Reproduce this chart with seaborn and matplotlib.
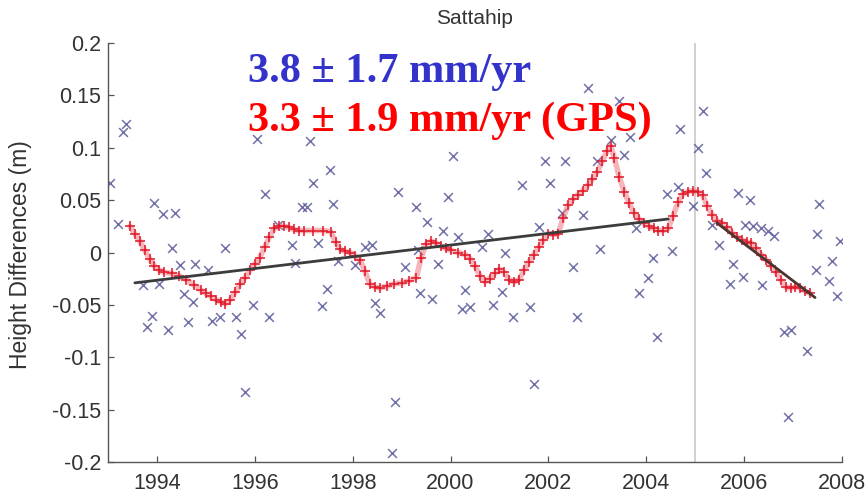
import numpy as np
import pandas as pd
import matplotlib
matplotlib.use('Agg')
import matplotlib.pyplot as plt
import seaborn as sns

# Tide gauge height differences (blue crosses)
tg_years = [1993.04, 1993.20, 1993.31, 1993.37, 1993.72, 1993.80, 1993.90, 1993.94,
            1994.04, 1994.12, 1994.23, 1994.31, 1994.37, 1994.47, 1994.55, 1994.64,
            1994.74, 1994.78, 1995.05, 1995.13, 1995.29, 1995.39, 1995.62, 1995.72,
            1995.80, 1995.97, 1996.05, 1996.21, 1996.29, 1996.48, 1996.76, 1996.83,
            1996.97, 1997.07, 1997.13, 1997.19, 1997.29, 1997.38, 1997.48, 1997.54,
            1997.60, 1997.70, 1998.05, 1998.26, 1998.40, 1998.46, 1998.56, 1998.80,
            1998.87, 1998.93, 1999.07, 1999.30, 1999.34, 1999.38, 1999.52, 1999.63,
            1999.75, 1999.85, 1999.95, 2000.06, 2000.16, 2000.24, 2000.30, 2000.40,
            2000.65, 2000.77, 2000.87, 2001.06, 2001.12, 2001.28, 2001.47, 2001.63,
            2001.71, 2001.80, 2001.94, 2002.04, 2002.28, 2002.35, 2002.51, 2002.59,
            2002.70, 2002.80, 2003.00, 2003.06, 2003.27, 2003.45, 2003.55, 2003.67,
            2003.80, 2003.86, 2004.04, 2004.14, 2004.23, 2004.43, 2004.53, 2004.64,
            2004.70, 2004.96, 2005.05, 2005.15, 2005.23, 2005.35, 2005.48, 2005.72,
            2005.78, 2005.88, 2005.97, 2006.02, 2006.13, 2006.18, 2006.34, 2006.37,
            2006.48, 2006.62, 2006.82, 2006.89, 2006.96, 2007.29, 2007.46, 2007.48,
            2007.54, 2007.74, 2007.80, 2007.89, 2007.96]
tg_values = [0.066, 0.027, 0.115, 0.123, -0.031, -0.071, -0.061, 0.047,
             -0.030, 0.037, -0.074, 0.004, 0.038, -0.012, -0.040, -0.066,
             -0.047, -0.011, -0.017, -0.065, -0.062, 0.004, -0.062, -0.078,
             -0.133, -0.050, 0.108, 0.056, -0.062, 0.026, 0.007, -0.010,
             0.043, 0.043, 0.106, 0.066, 0.009, -0.051, -0.035, 0.079,
             0.046, -0.008, -0.012, 0.005, 0.007, -0.048, -0.058, -0.191,
             -0.143, 0.058, -0.014, 0.043, 0.002, -0.039, 0.029, -0.044,
             -0.011, 0.021, 0.053, 0.092, 0.015, -0.054, -0.036, -0.052,
             0.005, 0.018, -0.050, -0.038, 0.000, -0.062, 0.064, -0.052,
             -0.126, 0.024, 0.087, 0.066, 0.038, 0.087, -0.014, -0.062,
             0.036, 0.157, 0.087, 0.003, 0.107, 0.145, 0.093, 0.110,
             0.023, -0.039, -0.024, -0.005, -0.081, 0.056, 0.001, 0.063,
             0.118, 0.044, 0.100, 0.135, 0.076, 0.026, 0.007, -0.030,
             -0.011, 0.057, -0.023, 0.026, 0.050, 0.025, 0.023, -0.031,
             0.021, 0.016, -0.076, -0.157, -0.074, -0.094, -0.017, 0.018,
             0.046, -0.027, -0.008, -0.042, 0.011]

# Smoothed series (red plus signs)
sm_years = [1993.45, 1993.55, 1993.65, 1993.75, 1993.85, 1993.95, 1994.05, 1994.15,
            1994.30, 1994.45, 1994.60, 1994.75, 1994.90, 1995.00, 1995.10, 1995.20,
            1995.30, 1995.40, 1995.50, 1995.60, 1995.70, 1995.80, 1995.90, 1996.00,
            1996.10, 1996.20, 1996.30, 1996.40, 1996.50, 1996.60, 1996.70, 1996.80,
            1996.90, 1997.00, 1997.20, 1997.40, 1997.55, 1997.65, 1997.75, 1997.85,
            1997.95, 1998.05, 1998.15, 1998.25, 1998.35, 1998.45, 1998.55, 1998.70,
            1998.85, 1999.00, 1999.15, 1999.30, 1999.40, 1999.50, 1999.60, 1999.70,
            1999.80, 1999.90, 2000.00, 2000.15, 2000.30, 2000.40, 2000.50, 2000.60,
            2000.70, 2000.80, 2000.90, 2001.00, 2001.10, 2001.20, 2001.30, 2001.40,
            2001.50, 2001.60, 2001.70, 2001.80, 2001.90, 2002.00, 2002.10, 2002.20,
            2002.30, 2002.40, 2002.50, 2002.60, 2002.70, 2002.80, 2002.90, 2003.00,
            2003.10, 2003.20, 2003.27, 2003.35, 2003.45, 2003.55, 2003.65, 2003.75,
            2003.85, 2003.95, 2004.05, 2004.15, 2004.25, 2004.35, 2004.45, 2004.55,
            2004.65, 2004.75, 2004.85, 2004.95, 2005.05, 2005.15, 2005.25, 2005.35,
            2005.45, 2005.55, 2005.65, 2005.75, 2005.85, 2005.95, 2006.05, 2006.15,
            2006.25, 2006.35, 2006.45, 2006.55, 2006.65, 2006.75, 2006.85, 2006.95,
            2007.05, 2007.15, 2007.25, 2007.35]
sm_values = [0.025, 0.018, 0.011, 0.002, -0.006, -0.013, -0.017, -0.019,
             -0.020, -0.022, -0.026, -0.031, -0.036, -0.039, -0.042, -0.045,
             -0.047, -0.049, -0.045, -0.038, -0.030, -0.024, -0.017, -0.011,
             -0.005, 0.005, 0.015, 0.023, 0.025, 0.025, 0.024, 0.022,
             0.021, 0.021, 0.021, 0.021, 0.020, 0.010, 0.003, 0.001,
             0.000, -0.003, -0.007, -0.018, -0.030, -0.033, -0.034, -0.032,
             -0.030, -0.029, -0.027, -0.024, -0.005, 0.008, 0.011, 0.009,
             0.006, 0.004, 0.002, 0.000, -0.002, -0.006, -0.013, -0.022,
             -0.028, -0.025, -0.020, -0.016, -0.019, -0.026, -0.028, -0.026,
             -0.017, -0.009, -0.002, 0.005, 0.012, 0.018, 0.017, 0.018,
             0.033, 0.045, 0.051, 0.055, 0.059, 0.064, 0.070, 0.077,
             0.087, 0.097, 0.102, 0.090, 0.072, 0.058, 0.047, 0.038,
             0.032, 0.028, 0.025, 0.023, 0.021, 0.021, 0.023, 0.035,
             0.048, 0.056, 0.058, 0.059, 0.058, 0.055, 0.044, 0.036,
             0.030, 0.028, 0.024, 0.019, 0.015, 0.012, 0.010, 0.009,
             0.004, -0.002, -0.007, -0.013, -0.019, -0.026, -0.033, -0.034,
             -0.033, -0.034, -0.037, -0.039]

# Linear trends (before and after the 2004 earthquake)
trend1_years = [1993.55, 2004.45]
trend1_values = [-0.029, 0.032]
trend2_years = [2005.45, 2007.45]
trend2_values = [0.028, -0.043]
quake_year = 2005.0

x_ticks = [1994, 1996, 1998, 2000, 2002, 2004, 2006, 2008]
y_ticks = [-0.2, -0.15, -0.1, -0.05, 0, 0.05, 0.1, 0.15, 0.2]
y_ticklabels = ['-0.2', '-0.15', '-0.1', '-0.05', '0', '0.05', '0.1', '0.15', '0.2']

sns.set_theme(style='white')
plt.rcParams['font.family'] = ['Liberation Sans', 'DejaVu Sans']

fig = plt.figure(figsize=(8.68, 4.97), dpi=100)
ax = fig.add_axes([0.1244, 0.0704, 0.8456, 0.8431])

tg = pd.DataFrame({'year': tg_years, 'h': tg_values})
sm = pd.DataFrame({'year': sm_years, 'h': sm_values})

ax.axvline(quake_year, color='#c8c8c8', lw=1.2, zorder=0)

sns.scatterplot(data=tg, x='year', y='h', marker='x', s=40, color='#4d4d92',
                linewidth=1.1, alpha=0.8, ax=ax, zorder=2)
# pink band under the smoothed curve
sns.lineplot(data=sm, x='year', y='h', color='#ec7a82', lw=4, alpha=0.55,
             ax=ax, zorder=3)
sns.lineplot(data=sm, x='year', y='h', color='#e01020', lw=0, marker='+',
             markersize=7, markeredgewidth=1.1, markeredgecolor='#e01828',
             ax=ax, zorder=4)
ax.plot(trend1_years, trend1_values, color='#3c3c3c', lw=2, zorder=5)
ax.plot(trend2_years, trend2_values, color='#4a3530', lw=2, zorder=5)

ax.set_xlim(1993, 2008)
ax.set_ylim(-0.2, 0.2)
ax.set_xticks(x_ticks)
ax.set_yticks(y_ticks)
ax.set_yticklabels(y_ticklabels)
ax.set_xlabel('')
ax.set_ylabel('Height Differences (m)', fontsize=16.5, color='#333333')
ax.yaxis.set_label_coords(-0.104, 0.495)
ax.set_title('Sattahip', fontsize=15, color='#333333', pad=14)

for side in ['top', 'right']:
    ax.spines[side].set_visible(False)
for side in ['left', 'bottom']:
    ax.spines[side].set_color('#555555')
    ax.spines[side].set_linewidth(1.0)
ax.tick_params(direction='in', length=4, width=0.9, color='#555555',
               labelsize=15.5, labelcolor='#333333', left=True, bottom=True)
ax.tick_params(axis='y', pad=5)
ax.tick_params(axis='x', pad=8)

serif = ['Liberation Serif', 'DejaVu Serif']
fig.text(248 / 868, 1 - 82 / 497, '3.8 \u00b1 1.7 mm/yr', color='#3333cc',
         fontsize=30.5, fontweight='bold', family=serif, va='baseline', ha='left')
fig.text(248 / 868, 1 - 131 / 497, '3.3 \u00b1 1.9 mm/yr (GPS)', color='#ff0000',
         fontsize=30.5, fontweight='bold', family=serif, va='baseline', ha='left')

fig.savefig('out.png', dpi=100)
